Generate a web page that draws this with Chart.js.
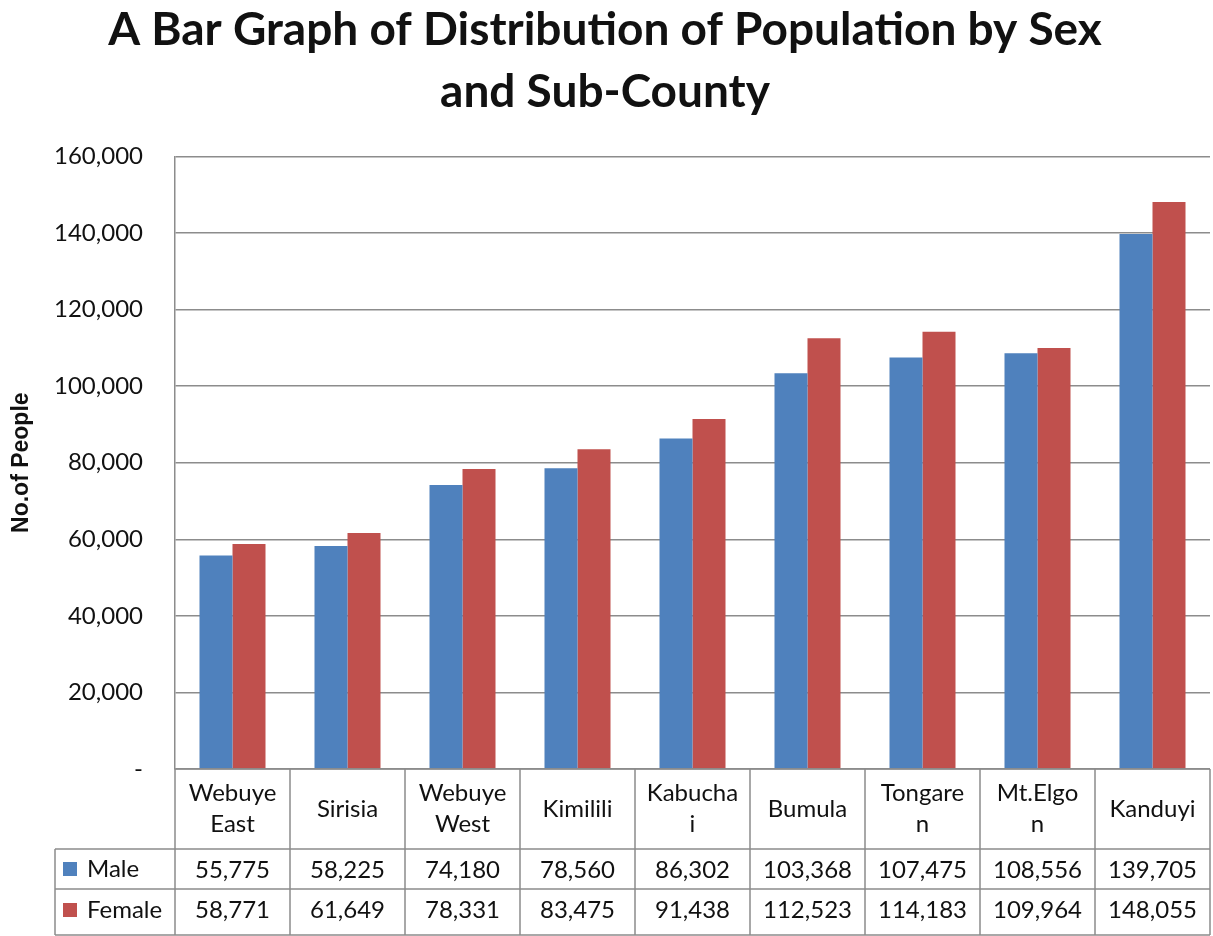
<!DOCTYPE html>
<html>
<head>
<meta charset="utf-8">
<script src="https://cdn.jsdelivr.net/npm/chart.js@4.4.1/dist/chart.umd.min.js"></script>
<style>
  html, body { margin: 0; padding: 0; background: #fff; }
  #wrap { width: 1213px; height: 936px; }
</style>
</head>
<body>
<div id="wrap"><canvas id="popChart"></canvas></div>
<script>
const subCounties = [
  ["Webuye", "East"], ["Sirisia"], ["Webuye", "West"], ["Kimilili"],
  ["Kabucha", "i"], ["Bumula"], ["Tongare", "n"], ["Mt.Elgo", "n"], ["Kanduyi"]
];
const maleValues = [55775, 58225, 74180, 78560, 86302, 103368, 107475, 108556, 139705];
const femaleValues = [58771, 61649, 78331, 83475, 91438, 112523, 114183, 109964, 148055];
const yTicks = [0, 20000, 40000, 60000, 80000, 100000, 120000, 140000, 160000];
const seriesNames = ["Male", "Female"];

const FONT = "Lato, 'Open Sans', sans-serif";
const LINE = "#8c8c8c";
const fmt = (v) => v.toLocaleString("en-US");

// Tabela de dados abaixo do gráfico
const dataTablePlugin = {
  id: "dataTable",
  afterDraw(chart) {
    const ctx = chart.ctx;
    const xs = chart.scales.x;
    const area = chart.chartArea;
    const n = subCounties.length;
    const step = xs.width / n;
    const top = area.bottom;
    const rows = [top, top + 80, top + 120, top + 166];
    const legendLeft = 55;

    ctx.save();
    ctx.strokeStyle = LINE;
    ctx.lineWidth = 1.5;
    ctx.beginPath();
    // linhas horizontais
    ctx.moveTo(area.left, rows[0]); ctx.lineTo(area.right, rows[0]);
    for (let r = 1; r < rows.length; r++) {
      ctx.moveTo(legendLeft, rows[r]); ctx.lineTo(area.right, rows[r]);
    }
    // linhas verticais
    for (let i = 0; i <= n; i++) {
      const x = xs.getPixelForValue(i) - step / 2;
      ctx.moveTo(x, rows[0]); ctx.lineTo(x, rows[3]);
    }
    ctx.moveTo(area.right, rows[0]); ctx.lineTo(area.right, rows[3]);
    ctx.moveTo(legendLeft, rows[1]); ctx.lineTo(legendLeft, rows[3]);
    ctx.stroke();

    ctx.fillStyle = "#111";
    ctx.font = "24px " + FONT;
    ctx.textAlign = "center";
    ctx.textBaseline = "middle";
    subCounties.forEach((lines, i) => {
      const cx = xs.getPixelForValue(i);
      const mid = (rows[0] + rows[1]) / 2;
      lines.forEach((t, k) => {
        ctx.fillText(t, cx, mid + (k - (lines.length - 1) / 2) * 31);
      });
      ctx.fillText(fmt(maleValues[i]), cx, (rows[1] + rows[2]) / 2 + 1);
      ctx.fillText(fmt(femaleValues[i]), cx, (rows[2] + rows[3]) / 2 - 2);
    });

    // legenda dentro da tabela
    const colors = chart.data.datasets.map((d) => d.backgroundColor);
    [[rows[1], rows[2]], [rows[2], rows[3]]].forEach(([a, b], k) => {
      const my = (a + b) / 2 + (k === 1 ? -2 : 0);
      ctx.fillStyle = colors[k];
      ctx.fillRect(63, my - 7, 14, 14);
      ctx.fillStyle = "#111";
      ctx.textAlign = "left";
      ctx.fillText(seriesNames[k], 87, my);
    });
    ctx.restore();
  }
};

const ctxPop = document.getElementById("popChart").getContext("2d");
const popChart = new Chart(ctxPop, {
  type: "bar",
  data: {
    labels: subCounties,
    datasets: [
      { label: seriesNames[0], data: maleValues, backgroundColor: "#4F81BD" },
      { label: seriesNames[1], data: femaleValues, backgroundColor: "#C0504D" }
    ]
  },
  options: {
    responsive: true,
    maintainAspectRatio: false,
    animation: false,
    layout: { padding: { left: 0, right: 3, top: 0, bottom: 0 } },
    datasets: { bar: { categoryPercentage: 0.574, barPercentage: 1.0 } },
    plugins: {
      legend: { display: false },
      tooltip: { enabled: false },
      title: {
        display: true,
        text: ["A Bar Graph of Distribution of Population by Sex", "and Sub-County"],
        color: "#111",
        font: { family: FONT, size: 46, weight: "bold", lineHeight: 1.33 },
        padding: { top: 0, bottom: 34 }
      }
    },
    scales: {
      x: {
        ticks: { display: false },
        grid: { display: false, drawTicks: false },
        border: { display: false },
        afterFit(s) { s.height = 167; }
      },
      y: {
        min: 0,
        max: 160000,
        afterBuildTicks(s) { s.ticks = yTicks.map((v) => ({ value: v })); },
        afterFit(s) { s.width = 175; },
        ticks: {
          padding: 32,
          color: "#111",
          font: { family: FONT, size: 24 },
          callback: (v) => (v === 0 ? "-" : fmt(v))
        },
        grid: { color: LINE, lineWidth: 1.5, drawTicks: false },
        border: { color: LINE, width: 1.5 },
        title: {
          display: true,
          text: "No.of People",
          color: "#111",
          font: { family: "'Liberation Sans', Arial, sans-serif", size: 23, weight: "bold" },
          padding: { top: 8, bottom: 0 }
        }
      }
    }
  },
  plugins: [dataTablePlugin]
});
</script>
</body>
</html>
